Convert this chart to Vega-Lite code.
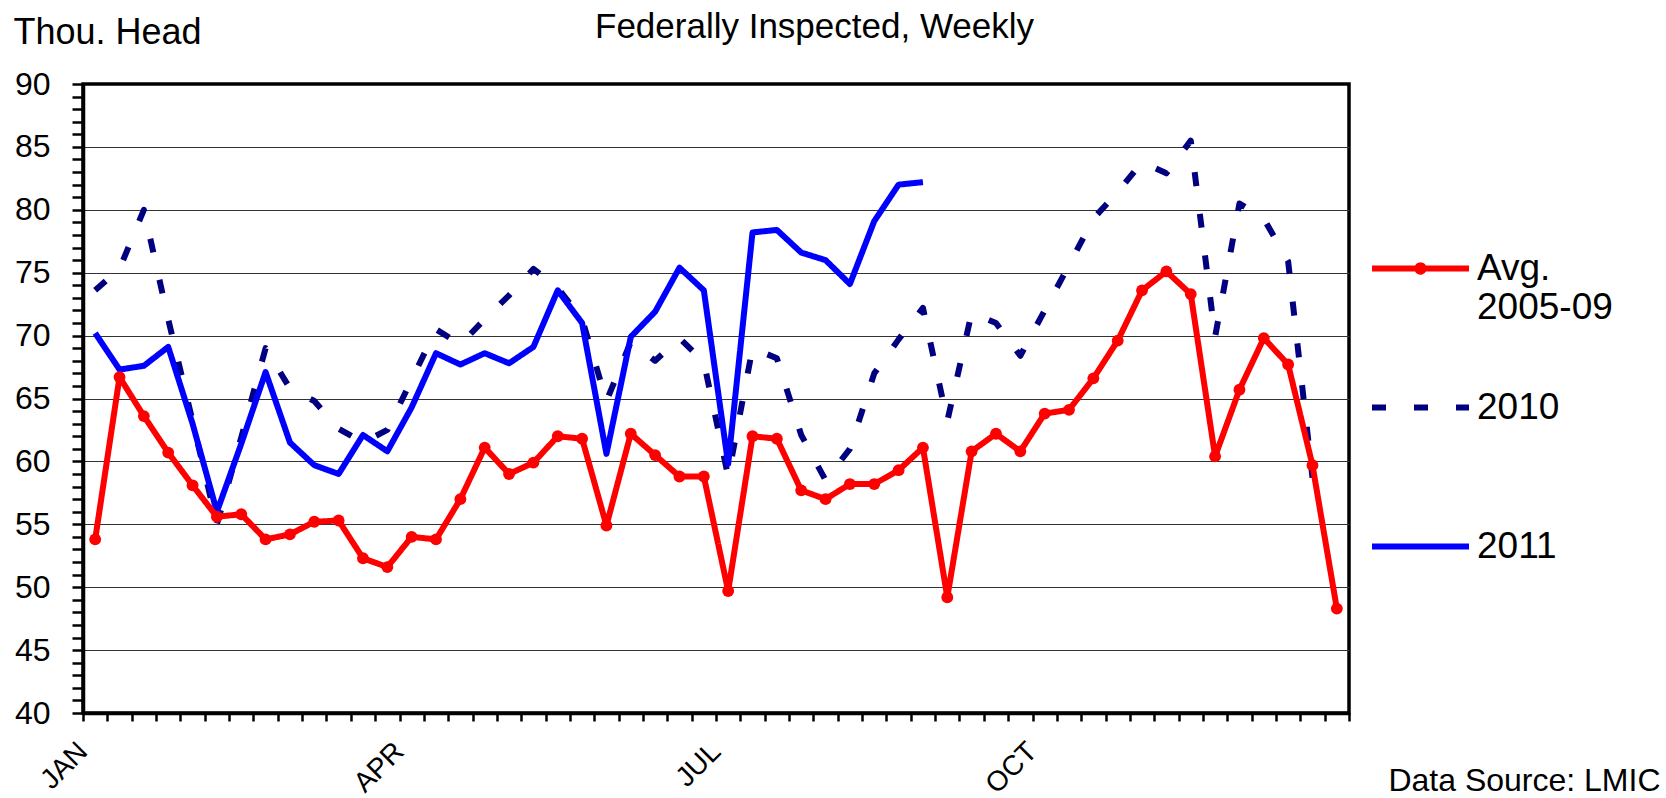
{
  "$schema": "https://vega.github.io/schema/vega-lite/v6.json",
  "width": 1266,
  "height": 629,
  "autosize": {"type": "none"},
  "padding": {"left": 83, "top": 84, "right": 317, "bottom": 85},
  "background": "white",
  "config": {
    "font": "Liberation Sans",
    "view": {"stroke": "black", "strokeWidth": 3.5}
  },
  "title": {
    "text": "Federally Inspected, Weekly",
    "fontSize": 35,
    "fontWeight": "normal",
    "color": "black",
    "anchor": "start",
    "frame": "group",
    "dx": 512,
    "dy": 35,
    "offset": 4
  },
  "data": {
    "values": [
      {"week": 1, "avg": 53.8, "y2010": 73.6, "y2011": 70.2},
      {"week": 2, "avg": 66.7, "y2010": 75.3, "y2011": 67.3},
      {"week": 3, "avg": 63.6, "y2010": 80.0, "y2011": 67.6},
      {"week": 4, "avg": 60.7, "y2010": 71.3, "y2011": 69.1},
      {"week": 5, "avg": 58.1, "y2010": 63.2, "y2011": 63.0},
      {"week": 6, "avg": 55.6, "y2010": 55.0, "y2011": 56.0},
      {"week": 7, "avg": 55.8, "y2010": 61.9, "y2011": 61.4},
      {"week": 8, "avg": 53.8, "y2010": 69.0, "y2011": 67.1},
      {"week": 9, "avg": 54.2, "y2010": 65.8, "y2011": 61.5},
      {"week": 10, "avg": 55.2, "y2010": 64.8, "y2011": 59.7},
      {"week": 11, "avg": 55.3, "y2010": 62.6, "y2011": 59.0},
      {"week": 12, "avg": 52.3, "y2010": 61.5, "y2011": 62.1},
      {"week": 13, "avg": 51.6, "y2010": 62.5, "y2011": 60.8},
      {"week": 14, "avg": 54.0, "y2010": 66.5, "y2011": 64.3},
      {"week": 15, "avg": 53.8, "y2010": 70.5, "y2011": 68.6},
      {"week": 16, "avg": 57.0, "y2010": 69.3, "y2011": 67.7},
      {"week": 17, "avg": 61.1, "y2010": 71.3, "y2011": 68.6},
      {"week": 18, "avg": 59.0, "y2010": 73.2, "y2011": 67.8},
      {"week": 19, "avg": 59.9, "y2010": 75.3, "y2011": 69.1},
      {"week": 20, "avg": 62.0, "y2010": 73.8, "y2011": 73.6},
      {"week": 21, "avg": 61.8, "y2010": 71.3, "y2011": 71.0},
      {"week": 22, "avg": 54.9, "y2010": 64.8, "y2011": 60.6},
      {"week": 23, "avg": 62.2, "y2010": 69.5, "y2011": 69.9},
      {"week": 24, "avg": 60.5, "y2010": 68.0, "y2011": 71.9},
      {"week": 25, "avg": 58.8, "y2010": 69.8, "y2011": 75.4},
      {"week": 26, "avg": 58.8, "y2010": 67.9, "y2011": 73.6},
      {"week": 27, "avg": 49.7, "y2010": 58.8, "y2011": 59.8},
      {"week": 28, "avg": 62.0, "y2010": 69.0, "y2011": 78.2},
      {"week": 29, "avg": 61.8, "y2010": 68.2, "y2011": 78.4},
      {"week": 30, "avg": 57.7, "y2010": 62.1, "y2011": 76.6},
      {"week": 31, "avg": 57.0, "y2010": 58.5, "y2011": 76.0},
      {"week": 32, "avg": 58.2, "y2010": 61.0, "y2011": 74.1},
      {"week": 33, "avg": 58.2, "y2010": 67.0, "y2011": 79.1},
      {"week": 34, "avg": 59.3, "y2010": 69.7, "y2011": 82.0},
      {"week": 35, "avg": 61.1, "y2010": 72.2, "y2011": 82.2},
      {"week": 36, "avg": 49.2, "y2010": 63.2},
      {"week": 37, "avg": 60.8, "y2010": 71.8},
      {"week": 38, "avg": 62.2, "y2010": 71.0},
      {"week": 39, "avg": 60.8, "y2010": 68.4},
      {"week": 40, "avg": 63.8, "y2010": 72.0},
      {"week": 41, "avg": 64.1, "y2010": 75.6},
      {"week": 42, "avg": 66.6, "y2010": 79.3},
      {"week": 43, "avg": 69.6, "y2010": 81.4},
      {"week": 44, "avg": 73.6, "y2010": 83.8},
      {"week": 45, "avg": 75.1, "y2010": 82.9},
      {"week": 46, "avg": 73.3, "y2010": 85.5},
      {"week": 47, "avg": 60.4, "y2010": 69.9},
      {"week": 48, "avg": 65.7, "y2010": 80.5},
      {"week": 49, "avg": 69.8, "y2010": 79.3},
      {"week": 50, "avg": 67.7, "y2010": 75.9},
      {"week": 51, "avg": 59.7, "y2010": 58.7},
      {"week": 52, "avg": 48.3}
    ]
  },
  "transform": [
    {"fold": ["y2010", "y2011", "avg"], "as": ["series", "value"]}
  ],
  "layer": [
    {
      "mark": {"type": "line", "strokeWidth": 6, "strokeJoin": "round", "strokeCap": "butt"},
      "encoding": {
        "x": {
          "field": "week",
          "type": "quantitative",
          "scale": {"domain": [0.5, 52.5], "nice": false, "zero": false},
          "axis": {
            "values": [0.5,1.5,2.5,3.5,4.5,5.5,6.5,7.5,8.5,9.5,10.5,11.5,12.5,13.5,14.5,15.5,16.5,17.5,18.5,19.5,20.5,21.5,22.5,23.5,24.5,25.5,26.5,27.5,28.5,29.5,30.5,31.5,32.5,33.5,34.5,35.5,36.5,37.5,38.5,39.5,40.5,41.5,42.5,43.5,44.5,45.5,46.5,47.5,48.5,49.5,50.5,51.5,52.5],
            "tickCount": 100,
            "labelExpr": "datum.value === 0.5 ? 'JAN' : datum.value === 13.5 ? 'APR' : datum.value === 26.5 ? 'JUL' : datum.value === 39.5 ? 'OCT' : ''",
            "labelAngle": -45,
            "labelAlign": "right",
            "labelBaseline": "middle",
            "labelFontSize": 28,
            "labelColor": "black",
            "labelPadding": 26,
            "labelOverlap": false,
            "labelFlush": false,
            "labelBound": false,
            "tickSize": 8,
            "tickWidth": 2.5,
            "tickColor": "black",
            "domainColor": "black",
            "domainWidth": 3.5,
            "grid": false,
            "title": "Data Source: LMIC",
            "titleFontSize": 32,
            "titleFontWeight": "normal",
            "titleColor": "black",
            "titleAlign": "right",
            "titleBaseline": "alphabetic",
            "titleAnchor": null,
            "titleX": 1577,
            "titleY": 77
          }
        },
        "y": {
          "field": "value",
          "type": "quantitative",
          "scale": {"domain": [40, 90], "nice": false, "zero": false},
          "axis": {
            "values": [40,41,42,43,44,45,46,47,48,49,50,51,52,53,54,55,56,57,58,59,60,61,62,63,64,65,66,67,68,69,70,71,72,73,74,75,76,77,78,79,80,81,82,83,84,85,86,87,88,89,90],
            "tickCount": 100,
            "format": "d",
            "labelExpr": "datum.value % 5 === 0 ? datum.label : ''",
            "labelFontSize": 32,
            "labelColor": "black",
            "labelPadding": 22,
            "labelOverlap": false,
            "labelFlush": false,
            "labelBound": false,
            "tickSize": 11,
            "tickWidth": 2.5,
            "tickColor": "black",
            "domainColor": "black",
            "domainWidth": 3.5,
            "grid": true,
            "gridColor": "#333333",
            "gridWidth": 1.2,
            "gridOpacity": {"condition": {"test": "datum.value % 5 === 0 && datum.value > 40 && datum.value < 90", "value": 1}, "value": 0},
            "title": "Thou. Head",
            "titleAngle": 0,
            "titleAlign": "left",
            "titleBaseline": "alphabetic",
            "titleAnchor": null,
            "titleX": -70,
            "titleY": -41,
            "titleFontSize": 36,
            "titleFontWeight": "normal",
            "titleColor": "black"
          }
        },
        "color": {
          "field": "series",
          "type": "nominal",
          "scale": {"domain": ["avg", "y2010", "y2011"], "range": ["#ff0000", "#000080", "#0000ff"]},
          "legend": {
            "title": null,
            "orient": "none",
            "legendX": 1286,
            "legendY": 133,
            "labelFontSize": 37,
            "labelColor": "black",
            "labelLimit": 0,
            "labelOffset": 5,
            "labelBaseline": "middle",
            "labelExpr": "datum.label === 'avg' ? ['Avg.', '2005-09'] : datum.label === 'y2010' ? '2010' : '2011'",
            "symbolType": "stroke",
            "symbolSize": 9409,
            "symbolStrokeWidth": 6,
            "rowPadding": 2,
            "encode": {
              "symbols": {
                "update": {
                  "shape": {"signal": "datum.value === 'avg' ? 'M0,-1.15M0,1.15M-1,0H1M0.065,0A0.065,0.065,0,1,1,-0.065,0A0.065,0.065,0,1,1,0.065,0Z' : 'M0,-1.15M0,1.15M-1,0H1'"},
                  "fill": {"value": "#ff0000"}
                }
              }
            }
          }
        },
        "strokeDash": {
          "field": "series",
          "type": "nominal",
          "scale": {"domain": ["avg", "y2010", "y2011"], "range": [[1, 0], [14, 28], [1, 0]]},
          "legend": {
            "title": null,
            "orient": "none",
            "legendX": 1286,
            "legendY": 133,
            "labelFontSize": 37,
            "labelColor": "black",
            "labelLimit": 0,
            "labelOffset": 5,
            "labelBaseline": "middle",
            "labelExpr": "datum.label === 'avg' ? ['Avg.', '2005-09'] : datum.label === 'y2010' ? '2010' : '2011'",
            "symbolType": "stroke",
            "symbolSize": 9409,
            "symbolStrokeWidth": 6,
            "rowPadding": 2,
            "encode": {
              "symbols": {
                "update": {
                  "shape": {"signal": "datum.value === 'avg' ? 'M0,-1.15M0,1.15M-1,0H1M0.065,0A0.065,0.065,0,1,1,-0.065,0A0.065,0.065,0,1,1,0.065,0Z' : 'M0,-1.15M0,1.15M-1,0H1'"},
                  "fill": {"value": "#ff0000"}
                }
              }
            }
          }
        }
      }
    },
    {
      "transform": [{"filter": "datum.series === 'avg'"}],
      "mark": {"type": "point", "filled": true, "size": 140, "opacity": 1, "color": "#ff0000"},
      "encoding": {
        "x": {"field": "week", "type": "quantitative"},
        "y": {"field": "value", "type": "quantitative"}
      }
    }
  ]
}
